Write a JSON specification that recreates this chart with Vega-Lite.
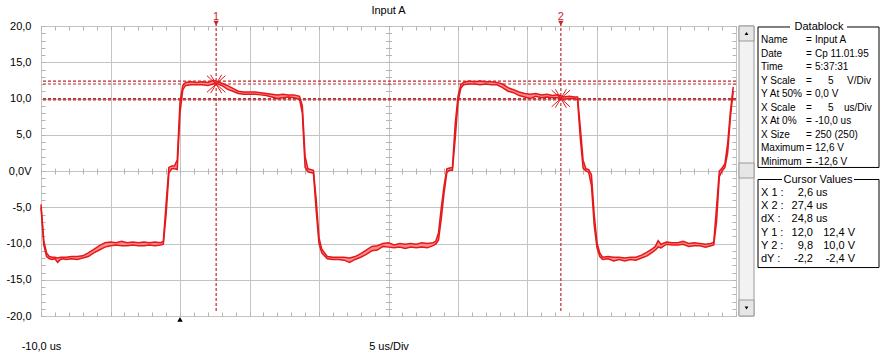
{
  "$schema": "https://vega.github.io/schema/vega-lite/v6.json",
  "background": "white",
  "padding": {"left": 5, "top": 4, "right": 0, "bottom": 0},
  "bounds": "flush",
  "spacing": 3,
  "config": {
    "view": {"stroke": null},
    "axis": {"labelFont": "Liberation Sans", "labelFontSize": 11, "labelColor": "#000000"},
    "text": {"font": "Liberation Sans", "fontSize": 11},
    "title": {"font": "Liberation Sans"}
  },
  "datasets": {
    "wave": [
      {"t": -10.0, "lo": -5.0, "hi": -4.6}, {"t": -9.8, "lo": -10.2, "hi": -9.6}, {"t": -9.6, "lo": -11.8, "hi": -11.3},
      {"t": -9.4, "lo": -12.1, "hi": -11.8}, {"t": -9.2, "lo": -12.2, "hi": -11.9}, {"t": -9.0, "lo": -12.1, "hi": -11.9},
      {"t": -8.8, "lo": -12.6, "hi": -12.0}, {"t": -8.6, "lo": -12.2, "hi": -11.9}, {"t": -8.4, "lo": -12.1, "hi": -11.9},
      {"t": -8.2, "lo": -12.2, "hi": -11.9}, {"t": -7.8, "lo": -12.1, "hi": -11.8}, {"t": -7.4, "lo": -12.2, "hi": -11.8},
      {"t": -7.0, "lo": -12.0, "hi": -11.7}, {"t": -6.6, "lo": -11.8, "hi": -11.3}, {"t": -6.2, "lo": -11.3, "hi": -10.8},
      {"t": -5.8, "lo": -10.9, "hi": -10.3}, {"t": -5.4, "lo": -10.5, "hi": -9.9}, {"t": -5.0, "lo": -10.3, "hi": -9.8},
      {"t": -4.6, "lo": -10.2, "hi": -9.9}, {"t": -4.2, "lo": -10.3, "hi": -9.7}, {"t": -3.8, "lo": -10.3, "hi": -9.9},
      {"t": -3.4, "lo": -10.2, "hi": -9.8}, {"t": -3.0, "lo": -10.3, "hi": -9.9}, {"t": -2.6, "lo": -10.3, "hi": -9.8},
      {"t": -2.2, "lo": -10.2, "hi": -9.9}, {"t": -1.8, "lo": -10.3, "hi": -9.8}, {"t": -1.4, "lo": -10.2, "hi": -9.9},
      {"t": -1.2, "lo": -10.1, "hi": -9.7}, {"t": -1.0, "lo": -6.0, "hi": -4.5}, {"t": -0.8, "lo": -0.3, "hi": 0.5},
      {"t": -0.6, "lo": 0.3, "hi": 0.7}, {"t": -0.4, "lo": 0.3, "hi": 0.7}, {"t": -0.2, "lo": 0.2, "hi": 1.5},
      {"t": 0.0, "lo": 8.0, "hi": 9.5}, {"t": 0.2, "lo": 11.2, "hi": 11.8}, {"t": 0.4, "lo": 11.8, "hi": 12.2},
      {"t": 0.8, "lo": 11.9, "hi": 12.3}, {"t": 1.2, "lo": 11.9, "hi": 12.2}, {"t": 1.6, "lo": 11.9, "hi": 12.3},
      {"t": 2.0, "lo": 11.8, "hi": 12.2}, {"t": 2.4, "lo": 12.0, "hi": 12.5}, {"t": 2.6, "lo": 12.1, "hi": 12.4},
      {"t": 3.0, "lo": 11.8, "hi": 12.1}, {"t": 3.4, "lo": 11.3, "hi": 11.8}, {"t": 3.8, "lo": 11.0, "hi": 11.4},
      {"t": 4.2, "lo": 10.7, "hi": 11.0}, {"t": 4.6, "lo": 10.6, "hi": 10.9}, {"t": 5.0, "lo": 10.6, "hi": 10.9},
      {"t": 5.4, "lo": 10.6, "hi": 10.9}, {"t": 5.8, "lo": 10.5, "hi": 10.8}, {"t": 6.2, "lo": 10.4, "hi": 10.7},
      {"t": 6.6, "lo": 10.2, "hi": 10.6}, {"t": 7.0, "lo": 10.0, "hi": 10.5}, {"t": 7.4, "lo": 10.1, "hi": 10.6},
      {"t": 7.8, "lo": 10.2, "hi": 10.5}, {"t": 8.2, "lo": 10.1, "hi": 10.5}, {"t": 8.6, "lo": 9.9, "hi": 10.3},
      {"t": 8.8, "lo": 8.0, "hi": 9.0}, {"t": 9.0, "lo": 0.5, "hi": 2.0}, {"t": 9.2, "lo": -0.1, "hi": 0.3},
      {"t": 9.6, "lo": -0.3, "hi": 0.1}, {"t": 9.8, "lo": -5.5, "hi": -4.0}, {"t": 10.0, "lo": -10.0, "hi": -9.2},
      {"t": 10.2, "lo": -11.3, "hi": -10.8}, {"t": 10.6, "lo": -12.1, "hi": -11.8}, {"t": 11.0, "lo": -12.2, "hi": -11.9},
      {"t": 11.4, "lo": -12.2, "hi": -11.9}, {"t": 11.8, "lo": -12.3, "hi": -11.9}, {"t": 12.2, "lo": -12.6, "hi": -12.0},
      {"t": 12.6, "lo": -12.2, "hi": -11.8}, {"t": 13.0, "lo": -11.9, "hi": -11.4}, {"t": 13.4, "lo": -11.5, "hi": -10.9},
      {"t": 13.8, "lo": -11.0, "hi": -10.4}, {"t": 14.2, "lo": -10.9, "hi": -10.3}, {"t": 14.6, "lo": -10.4, "hi": -10.0},
      {"t": 15.0, "lo": -10.5, "hi": -9.9}, {"t": 15.4, "lo": -10.6, "hi": -10.2}, {"t": 15.8, "lo": -10.5, "hi": -10.0},
      {"t": 16.2, "lo": -10.7, "hi": -10.1}, {"t": 16.6, "lo": -10.5, "hi": -10.0}, {"t": 17.0, "lo": -10.6, "hi": -10.1},
      {"t": 17.4, "lo": -10.5, "hi": -9.9}, {"t": 17.8, "lo": -10.6, "hi": -10.0}, {"t": 18.2, "lo": -10.3, "hi": -9.9},
      {"t": 18.4, "lo": -10.1, "hi": -9.7}, {"t": 18.6, "lo": -9.5, "hi": -8.5}, {"t": 18.8, "lo": -6.5, "hi": -5.0},
      {"t": 19.0, "lo": -3.0, "hi": -2.0}, {"t": 19.2, "lo": -0.2, "hi": 0.3}, {"t": 19.4, "lo": 0.1, "hi": 0.4},
      {"t": 19.6, "lo": 0.1, "hi": 0.5}, {"t": 19.8, "lo": 4.5, "hi": 6.5}, {"t": 20.0, "lo": 9.5, "hi": 10.3},
      {"t": 20.2, "lo": 11.4, "hi": 11.9}, {"t": 20.4, "lo": 11.9, "hi": 12.2}, {"t": 20.8, "lo": 12.0, "hi": 12.4},
      {"t": 21.2, "lo": 12.0, "hi": 12.3}, {"t": 21.6, "lo": 11.9, "hi": 12.4}, {"t": 22.0, "lo": 12.0, "hi": 12.3},
      {"t": 22.4, "lo": 11.9, "hi": 12.3}, {"t": 22.8, "lo": 11.9, "hi": 12.2}, {"t": 23.2, "lo": 11.5, "hi": 12.0},
      {"t": 23.6, "lo": 11.0, "hi": 11.5}, {"t": 24.0, "lo": 10.8, "hi": 11.2}, {"t": 24.4, "lo": 10.4, "hi": 10.9},
      {"t": 24.8, "lo": 10.2, "hi": 10.7}, {"t": 25.2, "lo": 10.0, "hi": 10.6}, {"t": 25.6, "lo": 10.3, "hi": 10.7},
      {"t": 26.0, "lo": 10.1, "hi": 10.5}, {"t": 26.4, "lo": 10.2, "hi": 10.6}, {"t": 26.8, "lo": 10.1, "hi": 10.4},
      {"t": 27.2, "lo": 10.1, "hi": 10.5}, {"t": 27.6, "lo": 9.9, "hi": 10.2}, {"t": 28.0, "lo": 10.0, "hi": 10.3},
      {"t": 28.4, "lo": 10.0, "hi": 10.2}, {"t": 28.6, "lo": 9.8, "hi": 10.2}, {"t": 28.8, "lo": 4.5, "hi": 6.0},
      {"t": 29.0, "lo": 0.4, "hi": 1.5}, {"t": 29.2, "lo": 0.0, "hi": 0.3}, {"t": 29.4, "lo": -0.2, "hi": 0.2},
      {"t": 29.6, "lo": -2.0, "hi": -0.5}, {"t": 29.8, "lo": -7.5, "hi": -6.0}, {"t": 30.0, "lo": -10.6, "hi": -9.9},
      {"t": 30.2, "lo": -11.8, "hi": -11.3}, {"t": 30.4, "lo": -12.2, "hi": -11.9}, {"t": 30.8, "lo": -12.1, "hi": -11.8},
      {"t": 31.2, "lo": -12.4, "hi": -11.9}, {"t": 31.6, "lo": -12.2, "hi": -11.9}, {"t": 32.0, "lo": -12.4, "hi": -12.0},
      {"t": 32.4, "lo": -12.2, "hi": -11.9}, {"t": 32.8, "lo": -12.3, "hi": -11.9}, {"t": 33.2, "lo": -12.0, "hi": -11.6},
      {"t": 33.6, "lo": -11.7, "hi": -11.2}, {"t": 34.0, "lo": -11.2, "hi": -10.7}, {"t": 34.2, "lo": -10.9, "hi": -10.4},
      {"t": 34.4, "lo": -10.5, "hi": -9.6}, {"t": 34.6, "lo": -10.6, "hi": -10.1}, {"t": 35.0, "lo": -10.1, "hi": -9.8},
      {"t": 35.4, "lo": -10.2, "hi": -9.9}, {"t": 35.8, "lo": -10.2, "hi": -9.9}, {"t": 36.2, "lo": -10.1, "hi": -9.7},
      {"t": 36.6, "lo": -10.4, "hi": -10.0}, {"t": 37.0, "lo": -10.3, "hi": -9.9}, {"t": 37.4, "lo": -10.3, "hi": -10.0},
      {"t": 37.8, "lo": -10.5, "hi": -10.1}, {"t": 38.2, "lo": -10.3, "hi": -10.0}, {"t": 38.4, "lo": -10.2, "hi": -9.8},
      {"t": 38.6, "lo": -7.0, "hi": -5.0}, {"t": 38.8, "lo": -0.8, "hi": 0.0}, {"t": 39.0, "lo": 0.0, "hi": 0.4},
      {"t": 39.2, "lo": 0.5, "hi": 1.0}, {"t": 39.4, "lo": 2.5, "hi": 3.8}, {"t": 39.6, "lo": 7.5, "hi": 8.3},
      {"t": 39.8, "lo": 11.0, "hi": 11.6}
    ],
    "cursors": [
      {"cursor": "1", "t": 2.6, "v": 12.0},
      {"cursor": "2", "t": 27.4, "v": 10.0}
    ],
    "levels": [
      {"cursor": "Y1", "level": 12.0},
      {"cursor": "Y1", "level": 12.4},
      {"cursor": "Y2", "level": 9.8},
      {"cursor": "Y2", "level": 10.0}
    ],
    "trigger": [{"t": 0}],
    "datablock": [
      {"line": 1, "key": "Name", "eq": "=", "val": "Input A", "num": "", "unit": "", "unit2": ""},
      {"line": 2, "key": "Date", "eq": "=", "val": "Cp 11.01.95", "num": "", "unit": "", "unit2": ""},
      {"line": 3, "key": "Time", "eq": "=", "val": "5:37:31", "num": "", "unit": "", "unit2": ""},
      {"line": 4, "key": "Y Scale", "eq": "=", "val": "", "num": "5", "unit": "V/Div", "unit2": ""},
      {"line": 5, "key": "Y At 50%", "eq": "=", "val": "0,0 V", "num": "", "unit": "", "unit2": ""},
      {"line": 6, "key": "X Scale", "eq": "=", "val": "", "num": "5", "unit": "", "unit2": "us/Div"},
      {"line": 7, "key": "X At 0%", "eq": "=", "val": "-10,0 us", "num": "", "unit": "", "unit2": ""},
      {"line": 8, "key": "X Size", "eq": "=", "val": "250 (250)", "num": "", "unit": "", "unit2": ""},
      {"line": 9, "key": "Maximum", "eq": "=", "val": "12,6 V", "num": "", "unit": "", "unit2": ""},
      {"line": 10, "key": "Minimum", "eq": "=", "val": "-12,6 V", "num": "", "unit": "", "unit2": ""}
    ],
    "cursorvalues": [
      {"line": 1, "key": "X 1 :", "v1": "2,6", "u1": "us", "v2": ""},
      {"line": 2, "key": "X 2 :", "v1": "27,4", "u1": "us", "v2": ""},
      {"line": 3, "key": "dX :", "v1": "24,8", "u1": "us", "v2": ""},
      {"line": 4, "key": "Y 1 :", "v1": "12,0", "u1": "", "v2": "12,4 V"},
      {"line": 5, "key": "Y 2 :", "v1": "9,8", "u1": "", "v2": "10,0 V"},
      {"line": 6, "key": "dY :", "v1": "-2,2", "u1": "", "v2": "-2,4 V"}
    ]
  },
  "hconcat": [
    {
      "width": 695,
      "height": 290,
      "view": {"stroke": "#c4c4c4", "fill": "white"},
      "title": {"text": "Input A", "fontSize": 11, "fontWeight": "normal", "font": "Liberation Sans", "baseline": "bottom", "offset": -16, "anchor": "middle", "color": "#000000"},
      "resolve": {"axis": {"x": "independent", "y": "independent"}},
      "layer": [
        {
          "data": {"name": "levels"},
          "mark": {"type": "rule", "color": "#c0282d", "strokeWidth": 1.2, "strokeDash": [3, 2]},
          "encoding": {
            "y": {"field": "level", "type": "quantitative", "scale": {"domain": [-20, 20], "nice": false, "zero": false}, "axis": null}
          }
        },
        {
          "data": {"name": "cursors"},
          "mark": {"type": "rule", "color": "#c0282d", "strokeWidth": 1.2, "strokeDash": [3, 2]},
          "encoding": {
            "x": {"field": "t", "type": "quantitative", "scale": {"domain": [-10, 40], "nice": false, "zero": false}, "axis": null},
            "y": {"datum": 20.4, "type": "quantitative", "scale": {"domain": [-20, 20], "nice": false, "zero": false}, "axis": null},
            "y2": {"datum": -19.6}
          }
        },
        {
          "data": {"name": "wave"},
          "mark": {"type": "area", "color": "#ff8c8c", "opacity": 1},
          "encoding": {
            "x": {"field": "t", "type": "quantitative", "scale": {"domain": [-10, 40], "nice": false, "zero": false},
              "axis": {"orient": "bottom", "values": [-10, -5, 0, 5, 10, 15, 20, 25, 30, 35, 40], "labelExpr": "datum.value == -10 ? '-10,0 us' : (datum.value == 15 ? '5 us/Div' : '')", "ticks": false, "domain": false, "grid": true, "gridColor": "#c4c4c4", "gridWidth": 1, "labelPadding": 24, "labelFlush": false, "labelOverlap": false, "labelBaseline": "top", "title": null}},
            "y": {"field": "lo", "type": "quantitative", "scale": {"domain": [-20, 20], "nice": false, "zero": false},
              "axis": {"orient": "left", "values": [-20, -15, -10, -5, 0, 5, 10, 15, 20], "labelExpr": "datum.value == 0 ? '0,0V' : (datum.value < 0 ? '-' : '') + abs(datum.value) + ',0'", "ticks": false, "domain": false, "grid": true, "gridColor": "#c4c4c4", "gridWidth": 1, "labelPadding": 10, "labelFlush": false, "labelOverlap": false, "title": null}},
            "y2": {"field": "hi"}
          }
        },
        {
          "data": {"name": "wave"},
          "mark": {"type": "line", "color": "#e31a1c", "strokeWidth": 1.5},
          "encoding": {
            "x": {"field": "t", "type": "quantitative", "scale": {"domain": [-10, 40], "nice": false, "zero": false},
              "axis": {"orient": "bottom", "offset": -290, "tickCount": 50, "labels": false, "domain": false, "grid": false, "ticks": true, "tickSize": 4, "tickColor": "#b4b4b4", "title": null}},
            "y": {"field": "lo", "type": "quantitative", "scale": {"domain": [-20, 20], "nice": false, "zero": false},
              "axis": {"orient": "right", "offset": -695, "tickCount": 40, "labels": false, "domain": false, "grid": false, "ticks": true, "tickSize": 4, "tickColor": "#b4b4b4", "title": null}}
          }
        },
        {
          "data": {"name": "wave"},
          "mark": {"type": "line", "color": "#e31a1c", "strokeWidth": 1.5},
          "encoding": {
            "x": {"field": "t", "type": "quantitative", "scale": {"domain": [-10, 40], "nice": false, "zero": false},
              "axis": {"orient": "top", "offset": -290, "tickCount": 50, "labels": false, "domain": false, "grid": false, "ticks": true, "tickSize": 4, "tickColor": "#b4b4b4", "title": null}},
            "y": {"field": "hi", "type": "quantitative", "scale": {"domain": [-20, 20], "nice": false, "zero": false},
              "axis": {"orient": "left", "offset": -695, "tickCount": 40, "labels": false, "domain": false, "grid": false, "ticks": true, "tickSize": 4, "tickColor": "#b4b4b4", "title": null}}
          }
        },
        {
          "data": {"name": "cursors"},
          "mark": {"type": "point", "shape": "M-1,-0.9L1,0.9M-1,0.9L1,-0.9M-0.6,-1L0.6,1M-0.6,1L0.6,-1", "size": 340, "filled": false, "stroke": "#e31a1c", "strokeWidth": 1, "opacity": 1},
          "encoding": {
            "x": {"field": "t", "type": "quantitative", "scale": {"domain": [-10, 40], "nice": false, "zero": false},
              "axis": {"orient": "bottom", "offset": -148, "tickCount": 50, "labels": false, "domain": false, "grid": false, "ticks": true, "tickSize": 6, "tickColor": "#b4b4b4", "title": null}},
            "y": {"field": "v", "type": "quantitative", "scale": {"domain": [-20, 20], "nice": false, "zero": false},
              "axis": {"orient": "left", "offset": -350.5, "tickCount": 40, "labels": false, "domain": false, "grid": false, "ticks": true, "tickSize": 6, "tickColor": "#b4b4b4", "title": null}}
          }
        },
        {
          "data": {"name": "cursors"},
          "mark": {"type": "text", "color": "#c0282d", "fontSize": 11, "font": "Liberation Sans", "baseline": "middle", "align": "center"},
          "encoding": {
            "x": {"field": "t", "type": "quantitative", "scale": {"domain": [-10, 40], "nice": false, "zero": false}, "axis": null},
            "y": {"datum": 21.25, "type": "quantitative", "scale": {"domain": [-20, 20], "nice": false, "zero": false}, "axis": null},
            "text": {"field": "cursor"}
          }
        },
        {
          "data": {"name": "cursors"},
          "mark": {"type": "point", "shape": "triangle-down", "size": 30, "filled": true, "color": "#c0282d", "opacity": 1},
          "encoding": {
            "x": {"field": "t", "type": "quantitative", "scale": {"domain": [-10, 40], "nice": false, "zero": false}, "axis": null},
            "y": {"datum": 20.4, "type": "quantitative", "scale": {"domain": [-20, 20], "nice": false, "zero": false}, "axis": null}
          }
        },
        {
          "data": {"name": "trigger"},
          "mark": {"type": "point", "shape": "triangle-up", "size": 30, "filled": true, "color": "#000000", "opacity": 1},
          "encoding": {
            "x": {"field": "t", "type": "quantitative", "scale": {"domain": [-10, 40], "nice": false, "zero": false}, "axis": null},
            "y": {"datum": -20.45, "type": "quantitative", "scale": {"domain": [-20, 20], "nice": false, "zero": false}, "axis": null}
          }
        }
      ]
    },
    {
      "width": 15,
      "height": 290,
      "view": {"stroke": null},
      "data": {"values": [{"part": "scrollbar"}]},
      "layer": [
        {
          "mark": {"type": "rect", "fill": "#f2f2f2", "stroke": "#9a9a9a", "strokeWidth": 1},
          "encoding": {
            "x": {"datum": 0, "type": "quantitative", "scale": {"domain": [0, 15], "nice": false, "zero": false}, "axis": null},
            "x2": {"datum": 15},
            "y": {"datum": 0, "type": "quantitative", "scale": {"domain": [0, 290], "nice": false, "zero": false, "reverse": true}, "axis": null},
            "y2": {"datum": 290}
          }
        },
        {
          "mark": {"type": "rect", "fill": "#e6e6e6", "stroke": "#9a9a9a", "strokeWidth": 1},
          "encoding": {
            "x": {"datum": 0, "type": "quantitative", "scale": {"domain": [0, 15], "nice": false, "zero": false}, "axis": null},
            "x2": {"datum": 15},
            "y": {"datum": 0, "type": "quantitative", "scale": {"domain": [0, 290], "nice": false, "zero": false, "reverse": true}, "axis": null},
            "y2": {"datum": 15}
          }
        },
        {
          "mark": {"type": "rect", "fill": "#e6e6e6", "stroke": "#9a9a9a", "strokeWidth": 1},
          "encoding": {
            "x": {"datum": 0, "type": "quantitative", "scale": {"domain": [0, 15], "nice": false, "zero": false}, "axis": null},
            "x2": {"datum": 15},
            "y": {"datum": 137, "type": "quantitative", "scale": {"domain": [0, 290], "nice": false, "zero": false, "reverse": true}, "axis": null},
            "y2": {"datum": 152}
          }
        },
        {
          "mark": {"type": "rect", "fill": "#e6e6e6", "stroke": "#9a9a9a", "strokeWidth": 1},
          "encoding": {
            "x": {"datum": 0, "type": "quantitative", "scale": {"domain": [0, 15], "nice": false, "zero": false}, "axis": null},
            "x2": {"datum": 15},
            "y": {"datum": 274, "type": "quantitative", "scale": {"domain": [0, 290], "nice": false, "zero": false, "reverse": true}, "axis": null},
            "y2": {"datum": 290}
          }
        },
        {
          "mark": {"type": "point", "shape": "triangle-up", "size": 14, "filled": true, "color": "#000000", "opacity": 1},
          "encoding": {
            "x": {"datum": 7.5, "type": "quantitative", "scale": {"domain": [0, 15], "nice": false, "zero": false}, "axis": null},
            "y": {"datum": 7.5, "type": "quantitative", "scale": {"domain": [0, 290], "nice": false, "zero": false, "reverse": true}, "axis": null}
          }
        },
        {
          "mark": {"type": "point", "shape": "triangle-down", "size": 14, "filled": true, "color": "#000000", "opacity": 1},
          "encoding": {
            "x": {"datum": 7.5, "type": "quantitative", "scale": {"domain": [0, 15], "nice": false, "zero": false}, "axis": null},
            "y": {"datum": 282, "type": "quantitative", "scale": {"domain": [0, 290], "nice": false, "zero": false, "reverse": true}, "axis": null}
          }
        }
      ]
    },
    {
      "spacing": 11,
      "bounds": "flush",
      "vconcat": [
        {
          "width": 122,
          "height": 142,
          "view": {"stroke": null},
          "layer": [
            {
              "data": {"values": [{"box": "Datablock"}]},
              "mark": {"type": "rect", "fill": "white", "stroke": "#000000", "strokeWidth": 1},
              "encoding": {
                "x": {"datum": 1, "type": "quantitative", "scale": {"domain": [0, 122], "nice": false, "zero": false}, "axis": null},
                "x2": {"datum": 122},
                "y": {"datum": 0.04, "type": "quantitative", "scale": {"domain": [-0.033, 10.44], "nice": false, "zero": false, "reverse": true}, "axis": null},
                "y2": {"datum": 10.40}
              }
            },
            {
              "data": {"values": [{"box": "Datablock"}]},
              "mark": {"type": "rect", "fill": "white", "stroke": null},
              "encoding": {
                "x": {"datum": 33, "type": "quantitative", "scale": {"domain": [0, 122], "nice": false, "zero": false}, "axis": null},
                "x2": {"datum": 90},
                "y": {"datum": -0.4, "type": "quantitative", "scale": {"domain": [-0.033, 10.44], "nice": false, "zero": false, "reverse": true}, "axis": null},
                "y2": {"datum": 0.5}
              }
            },
            {
              "data": {"values": [{"box": "Datablock"}]},
              "mark": {"type": "text", "font": "Liberation Sans", "fontSize": 11, "align": "center", "baseline": "middle", "color": "#000000"},
              "encoding": {
                "x": {"datum": 62, "type": "quantitative", "scale": {"domain": [0, 122], "nice": false, "zero": false}, "axis": null},
                "y": {"datum": 0.04, "type": "quantitative", "scale": {"domain": [-0.033, 10.44], "nice": false, "zero": false, "reverse": true}, "axis": null},
                "text": {"field": "box"}
              }
            },
            {
              "data": {"name": "datablock"},
              "mark": {"type": "text", "font": "Liberation Sans", "fontSize": 10, "align": "left", "baseline": "middle", "color": "#000000"},
              "encoding": {
                "x": {"datum": 4, "type": "quantitative", "scale": {"domain": [0, 122], "nice": false, "zero": false}, "axis": null},
                "y": {"field": "line", "type": "quantitative", "scale": {"domain": [-0.033, 10.44], "nice": false, "zero": false, "reverse": true}, "axis": null},
                "text": {"field": "key"}
              }
            },
            {
              "data": {"name": "datablock"},
              "mark": {"type": "text", "font": "Liberation Sans", "fontSize": 10, "align": "left", "baseline": "middle", "color": "#000000"},
              "encoding": {
                "x": {"datum": 49, "type": "quantitative", "scale": {"domain": [0, 122], "nice": false, "zero": false}, "axis": null},
                "y": {"field": "line", "type": "quantitative", "scale": {"domain": [-0.033, 10.44], "nice": false, "zero": false, "reverse": true}, "axis": null},
                "text": {"field": "eq"}
              }
            },
            {
              "data": {"name": "datablock"},
              "mark": {"type": "text", "font": "Liberation Sans", "fontSize": 10, "align": "left", "baseline": "middle", "color": "#000000"},
              "encoding": {
                "x": {"datum": 58, "type": "quantitative", "scale": {"domain": [0, 122], "nice": false, "zero": false}, "axis": null},
                "y": {"field": "line", "type": "quantitative", "scale": {"domain": [-0.033, 10.44], "nice": false, "zero": false, "reverse": true}, "axis": null},
                "text": {"field": "val"}
              }
            },
            {
              "data": {"name": "datablock"},
              "mark": {"type": "text", "font": "Liberation Sans", "fontSize": 10, "align": "left", "baseline": "middle", "color": "#000000"},
              "encoding": {
                "x": {"datum": 71, "type": "quantitative", "scale": {"domain": [0, 122], "nice": false, "zero": false}, "axis": null},
                "y": {"field": "line", "type": "quantitative", "scale": {"domain": [-0.033, 10.44], "nice": false, "zero": false, "reverse": true}, "axis": null},
                "text": {"field": "num"}
              }
            },
            {
              "data": {"name": "datablock"},
              "mark": {"type": "text", "font": "Liberation Sans", "fontSize": 10, "align": "left", "baseline": "middle", "color": "#000000"},
              "encoding": {
                "x": {"datum": 90, "type": "quantitative", "scale": {"domain": [0, 122], "nice": false, "zero": false}, "axis": null},
                "y": {"field": "line", "type": "quantitative", "scale": {"domain": [-0.033, 10.44], "nice": false, "zero": false, "reverse": true}, "axis": null},
                "text": {"field": "unit"}
              }
            },
            {
              "data": {"name": "datablock"},
              "mark": {"type": "text", "font": "Liberation Sans", "fontSize": 10, "align": "left", "baseline": "middle", "color": "#000000"},
              "encoding": {
                "x": {"datum": 87, "type": "quantitative", "scale": {"domain": [0, 122], "nice": false, "zero": false}, "axis": null},
                "y": {"field": "line", "type": "quantitative", "scale": {"domain": [-0.033, 10.44], "nice": false, "zero": false, "reverse": true}, "axis": null},
                "text": {"field": "unit2"}
              }
            }
          ]
        },
        {
          "width": 122,
          "height": 89,
          "view": {"stroke": null},
          "layer": [
            {
              "data": {"values": [{"box": "Cursor Values"}]},
              "mark": {"type": "rect", "fill": "white", "stroke": "#000000", "strokeWidth": 1},
              "encoding": {
                "x": {"datum": 1, "type": "quantitative", "scale": {"domain": [0, 122], "nice": false, "zero": false}, "axis": null},
                "x2": {"datum": 122},
                "y": {"datum": -0.022, "type": "quantitative", "scale": {"domain": [-0.06, 6.68], "nice": false, "zero": false, "reverse": true}, "axis": null},
                "y2": {"datum": 6.645}
              }
            },
            {
              "data": {"values": [{"box": "Cursor Values"}]},
              "mark": {"type": "rect", "fill": "white", "stroke": null},
              "encoding": {
                "x": {"datum": 25, "type": "quantitative", "scale": {"domain": [0, 122], "nice": false, "zero": false}, "axis": null},
                "x2": {"datum": 97},
                "y": {"datum": -0.45, "type": "quantitative", "scale": {"domain": [-0.06, 6.68], "nice": false, "zero": false, "reverse": true}, "axis": null},
                "y2": {"datum": 0.45}
              }
            },
            {
              "data": {"values": [{"box": "Cursor Values"}]},
              "mark": {"type": "text", "font": "Liberation Sans", "fontSize": 11, "align": "center", "baseline": "middle", "color": "#000000"},
              "encoding": {
                "x": {"datum": 61, "type": "quantitative", "scale": {"domain": [0, 122], "nice": false, "zero": false}, "axis": null},
                "y": {"datum": -0.022, "type": "quantitative", "scale": {"domain": [-0.06, 6.68], "nice": false, "zero": false, "reverse": true}, "axis": null},
                "text": {"field": "box"}
              }
            },
            {
              "data": {"name": "cursorvalues"},
              "mark": {"type": "text", "font": "Liberation Sans", "fontSize": 11, "align": "left", "baseline": "middle", "color": "#000000"},
              "encoding": {
                "x": {"datum": 4, "type": "quantitative", "scale": {"domain": [0, 122], "nice": false, "zero": false}, "axis": null},
                "y": {"field": "line", "type": "quantitative", "scale": {"domain": [-0.06, 6.68], "nice": false, "zero": false, "reverse": true}, "axis": null},
                "text": {"field": "key"}
              }
            },
            {
              "data": {"name": "cursorvalues"},
              "mark": {"type": "text", "font": "Liberation Sans", "fontSize": 11, "align": "right", "baseline": "middle", "color": "#000000"},
              "encoding": {
                "x": {"datum": 56, "type": "quantitative", "scale": {"domain": [0, 122], "nice": false, "zero": false}, "axis": null},
                "y": {"field": "line", "type": "quantitative", "scale": {"domain": [-0.06, 6.68], "nice": false, "zero": false, "reverse": true}, "axis": null},
                "text": {"field": "v1"}
              }
            },
            {
              "data": {"name": "cursorvalues"},
              "mark": {"type": "text", "font": "Liberation Sans", "fontSize": 11, "align": "left", "baseline": "middle", "color": "#000000"},
              "encoding": {
                "x": {"datum": 59, "type": "quantitative", "scale": {"domain": [0, 122], "nice": false, "zero": false}, "axis": null},
                "y": {"field": "line", "type": "quantitative", "scale": {"domain": [-0.06, 6.68], "nice": false, "zero": false, "reverse": true}, "axis": null},
                "text": {"field": "u1"}
              }
            },
            {
              "data": {"name": "cursorvalues"},
              "mark": {"type": "text", "font": "Liberation Sans", "fontSize": 11, "align": "right", "baseline": "middle", "color": "#000000"},
              "encoding": {
                "x": {"datum": 98, "type": "quantitative", "scale": {"domain": [0, 122], "nice": false, "zero": false}, "axis": null},
                "y": {"field": "line", "type": "quantitative", "scale": {"domain": [-0.06, 6.68], "nice": false, "zero": false, "reverse": true}, "axis": null},
                "text": {"field": "v2"}
              }
            }
          ]
        }
      ]
    }
  ]
}
